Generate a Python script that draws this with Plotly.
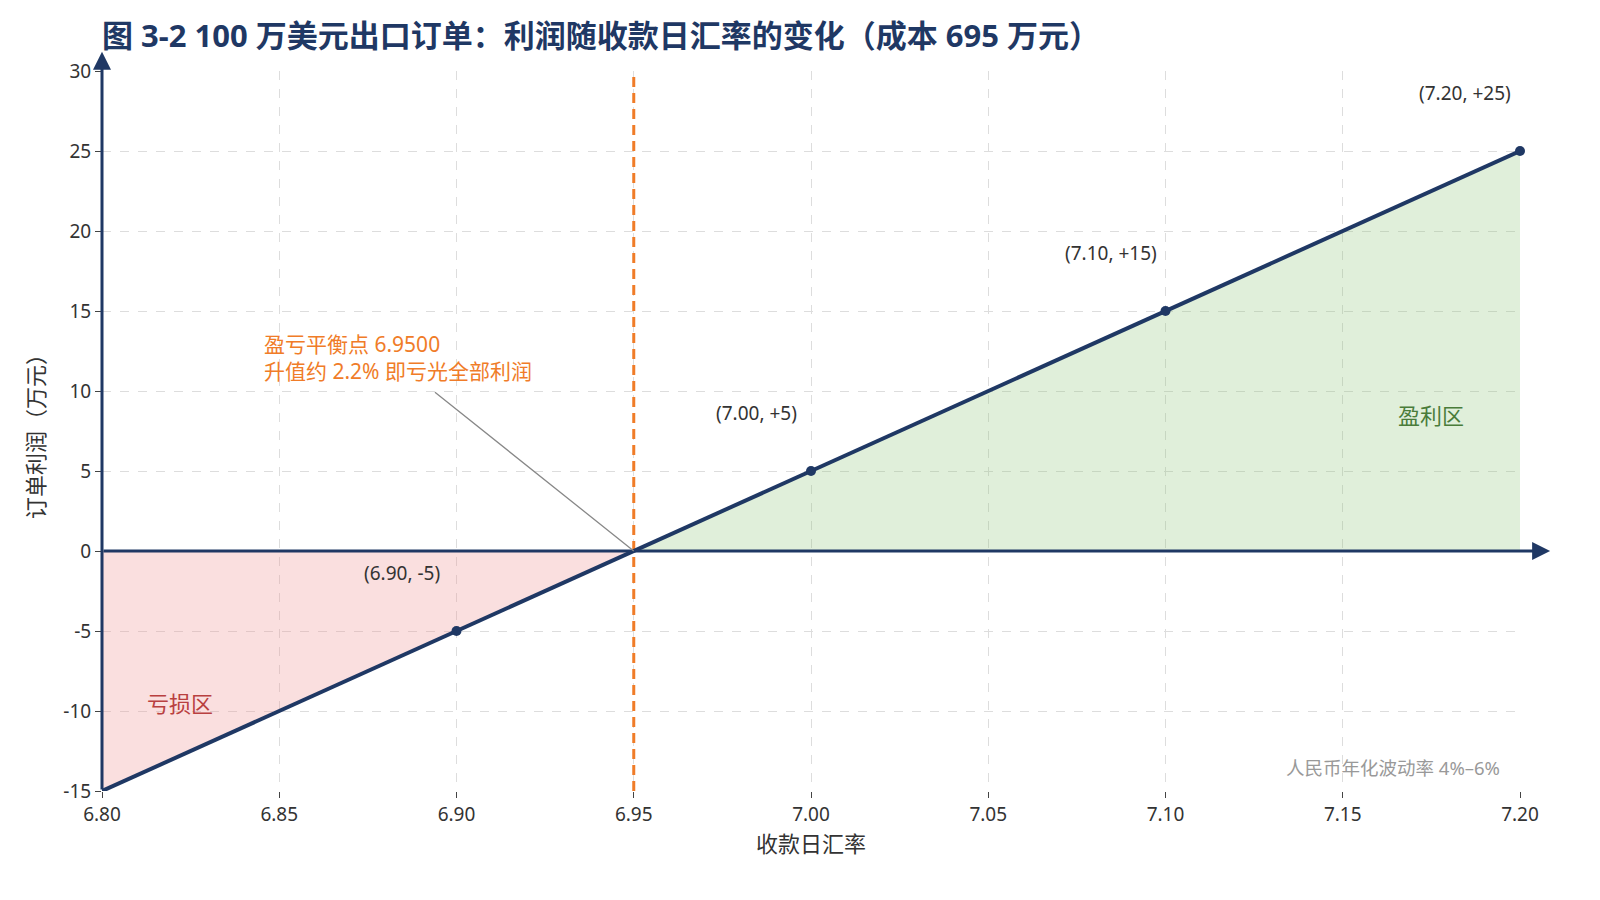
import plotly.graph_objects as go

# ---- data ----
rate_line = [6.80, 6.95, 7.20]
profit_line = [-15, 0, 25]
point_rates = [6.90, 7.00, 7.10, 7.20]
point_profits = [-5, 5, 15, 25]
point_labels = ["(6.90, -5)", "(7.00, +5)", "(7.10, +15)", "(7.20, +25)"]
loss_x = [6.80, 6.95, 6.80]
loss_y = [0, 0, -15]
gain_x = [6.95, 7.20, 7.20]
gain_y = [0, 25, 0]
breakeven = 6.95
x_ticks = [6.80, 6.85, 6.90, 6.95, 7.00, 7.05, 7.10, 7.15, 7.20]
y_ticks = [-15, -10, -5, 0, 5, 10, 15, 20, 25, 30]
y_ticktext = ["-15", "-10", "-5", "0", "5", "10", "15", "20", "25", "30"]

NAVY = "#1f3864"
ORANGE = "#f07c28"
FONT = "Noto Sans, Noto Sans CJK SC"

fig = go.Figure()

fig.add_trace(go.Scatter(x=loss_x, y=loss_y, fill="toself", mode="none",
                         fillcolor="rgba(240,150,150,0.30)", hoverinfo="skip", showlegend=False))
fig.add_trace(go.Scatter(x=gain_x, y=gain_y, fill="toself", mode="none",
                         fillcolor="rgba(140,195,120,0.27)", hoverinfo="skip", showlegend=False))

# break-even vertical line
fig.add_trace(go.Scatter(x=[breakeven, breakeven], y=[-15, 30], mode="lines",
                         line=dict(color=ORANGE, width=3, dash="10px,6px"),
                         hoverinfo="skip", showlegend=False, cliponaxis=False))

# main profit line
fig.add_trace(go.Scatter(x=rate_line, y=profit_line, mode="lines",
                         line=dict(color=NAVY, width=4), showlegend=False, cliponaxis=False))
fig.add_trace(go.Scatter(x=point_rates, y=point_profits, mode="markers",
                         marker=dict(color=NAVY, size=10), showlegend=False, cliponaxis=False))

annotations = []
for xr, yp, lab in zip(point_rates, point_profits, point_labels):
    annotations.append(dict(x=xr, y=yp, text=lab, showarrow=False, xshift=-55, yshift=58,
                            font=dict(family=FONT, size=19, color="#333333")))

# y axis arrow
annotations.append(dict(x=6.80, y=31.2, ax=6.80, ay=-15, xref="x", yref="y", axref="x", ayref="y",
                        text="", showarrow=True, arrowhead=2, arrowsize=1.2, arrowwidth=3,
                        arrowcolor=NAVY))
# x axis arrow
annotations.append(dict(x=7.2085, y=0, ax=6.80, ay=0, xref="x", yref="y", axref="x", ayref="y",
                        text="", showarrow=True, arrowhead=2, arrowsize=1.2, arrowwidth=3,
                        arrowcolor=NAVY))
# break-even callout
annotations.append(dict(x=breakeven, y=0, ax=6.8935, ay=10.0, xref="x", yref="y", axref="x", ayref="y",
                        text="", showarrow=True, arrowhead=0, arrowwidth=1.3, arrowcolor="#888888"))
annotations.append(dict(x=6.845, y=12.1, xref="x", yref="y", xanchor="left", yanchor="middle",
                        text="盈亏平衡点 6.9500<br>升值约 2.2% 即亏光全部利润", showarrow=False, align="left",
                        font=dict(family=FONT, size=21, color=ORANGE)))
annotations.append(dict(x=7.175, y=8.5, text="盈利区", showarrow=False,
                        font=dict(family=FONT, size=22, color="#4a7c3a")))
annotations.append(dict(x=6.822, y=-9.5, text="亏损区", showarrow=False,
                        font=dict(family=FONT, size=22, color="#b94040")))
annotations.append(dict(x=7.195, y=-13.5, xanchor="right", text="人民币年化波动率 4%–6%", showarrow=False,
                        font=dict(family=FONT, size=18.5, color="#999999")))

fig.update_layout(
    width=1600, height=900,
    paper_bgcolor="white", plot_bgcolor="white",
    margin=dict(l=102, r=80, t=71, b=109),
    title=dict(text="<b>图 3-2 100 万美元出口订单：利润随收款日汇率的变化（成本 695 万元）</b>",
               x=102/1600, xanchor="left", y=1-36/900, yanchor="middle",
               font=dict(family=FONT, size=31, color=NAVY)),
    font=dict(family=FONT, color="#333333"),
    annotations=annotations,
    xaxis=dict(range=[6.80, 7.20], tickvals=x_ticks, ticktext=[f"{v:.2f}" for v in x_ticks],
               showgrid=True, gridcolor="#dddddd", griddash="dash", gridwidth=1,
               zeroline=False, showline=False, ticks="outside", ticklen=6, tickcolor="#444444",
               tickfont=dict(size=19, color="#333333"),
               title=dict(text="收款日汇率", font=dict(size=22, color="#333333"), standoff=10)),
    yaxis=dict(range=[-15, 30], tickvals=y_ticks, ticktext=y_ticktext,
               showgrid=True, gridcolor="#dddddd", griddash="dash", gridwidth=1,
               zeroline=False, showline=False, ticks="outside", ticklen=6, tickcolor="#444444",
               tickfont=dict(size=19, color="#333333"),
               title=dict(text="订单利润（万元）", font=dict(size=22, color="#333333"), standoff=12)),
)

fig.write_html("out.html", config={"displayModeBar": False},
               post_script="document.body.style.margin='0';document.body.style.overflow='hidden';")
